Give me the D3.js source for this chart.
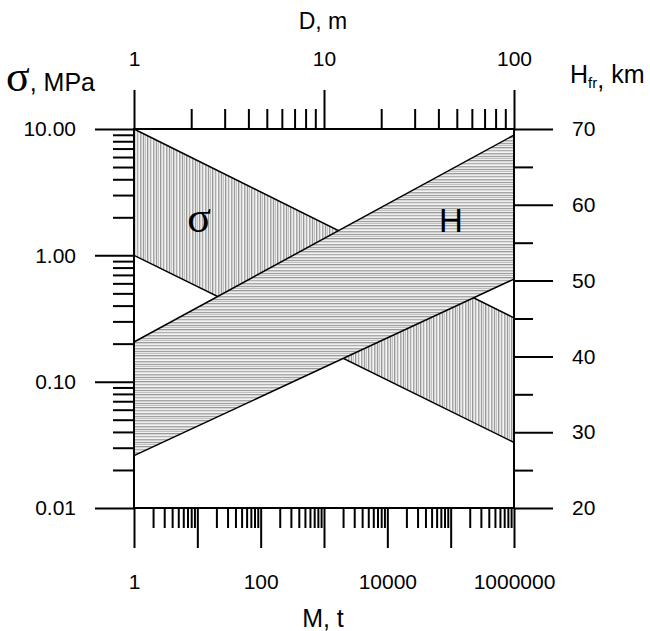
<!DOCTYPE html>
<html>
<head>
<meta charset="utf-8">
<script src="https://cdn.jsdelivr.net/npm/d3@7/dist/d3.min.js"></script>
<style>
  html, body { margin: 0; padding: 0; background: #fff; }
  svg { display: block; }
  .axis text { font-family: "Liberation Sans", Arial, sans-serif; font-size: 21px; fill: #000; }
  .axis line { stroke: #000; stroke-width: 2; }
  .axis path { display: none; }
  .title { font-family: "Liberation Sans", Arial, sans-serif; fill: #000; }
</style>
</head>
<body>
<svg id="chart" width="650" height="631"></svg>
<script>
// Mass of the impactor, t (bottom axis) and its diameter, m (top axis)
const massDomain = [1, 1e6];
const massLabels = [1, 100, 10000, 1000000];
const diameterDomain = [1, 100];
const diameterLabels = [1, 10, 100];

// Stress, MPa (left axis, log) and fracture depth, km (right axis, linear)
const stressDomain = [0.01, 10];
const stressLabels = [10, 1, 0.1, 0.01];
const depthDomain = [20, 70];
const depthMajor = [20, 30, 40, 50, 60, 70];
const depthMinor = [25, 35, 45, 55, 65];

// Stress band: upper and lower bounds versus mass
const sigmaMass = [1, 1e6];
const sigmaUpper = [10, 0.32];
const sigmaLower = [1, 0.033];

// Fracture depth band: upper and lower bounds versus mass
const depthMass = [1, 1e6];
const depthUpper = [41.9, 69.2];
const depthLower = [26.9, 50.2];

const svg = d3.select("#chart");
const plot = { left: 134, right: 514, top: 129, bottom: 508 };

const x = d3.scaleLog().domain(massDomain).range([plot.left, plot.right]);
const xD = d3.scaleLog().domain(diameterDomain).range([plot.left, plot.right]);
const y = d3.scaleLog().domain(stressDomain).range([plot.bottom, plot.top]);
const yH = d3.scaleLinear().domain(depthDomain).range([plot.bottom, plot.top]);

const isDecade = v => Math.abs(Math.log10(v) - Math.round(Math.log10(v))) < 1e-9;

// Hatch patterns: thin grey strokes of uneven tone
const defs = svg.append("defs");
const vGrays = ["#9c9c9c", "#e2e2e2", "#c2c2c2", "#f1f1f1", "#969696", "#d4d4d4",
                "#eaeaea", "#aeaeae", "#dcdcdc", "#f5f5f5", "#a8a8a8", "#cccccc", "#e6e6e6"];
const hGrays = ["#a0a0a0", "#e4e4e4", "#bebebe", "#f1f1f1", "#989898", "#d6d6d6",
                "#ececec", "#b2b2b2", "#dedede", "#f4f4f4", "#a8a8a8", "#cecece", "#e8e8e8"];

const pv = defs.append("pattern").attr("id", "vhatch")
  .attr("patternUnits", "userSpaceOnUse").attr("width", vGrays.length).attr("height", 4);
pv.selectAll("rect").data(vGrays).join("rect")
  .attr("x", (d, i) => i).attr("y", 0).attr("width", 1).attr("height", 4).attr("fill", d => d);

const ph = defs.append("pattern").attr("id", "hhatch")
  .attr("patternUnits", "userSpaceOnUse").attr("width", 4).attr("height", hGrays.length);
ph.selectAll("rect").data(hGrays).join("rect")
  .attr("y", (d, i) => i).attr("x", 0).attr("height", 1).attr("width", 4).attr("fill", d => d);

// Band polygons
function bandPoints(ms, up, lo, ys) {
  const pts = ms.map((m, i) => [x(m), ys(up[i])]);
  for (let i = ms.length - 1; i >= 0; i--) pts.push([x(ms[i]), ys(lo[i])]);
  return pts;
}
const line = d3.line();

svg.append("path")
  .attr("d", line(bandPoints(sigmaMass, sigmaUpper, sigmaLower, y)) + "Z")
  .attr("fill", "url(#vhatch)").attr("stroke", "#000").attr("stroke-width", 1.5);

svg.append("path")
  .attr("d", line(bandPoints(depthMass, depthUpper, depthLower, yH)) + "Z")
  .attr("fill", "url(#hhatch)").attr("stroke", "#000").attr("stroke-width", 1.5);

// Band labels
svg.append("text").attr("x", 199).attr("y", 232).attr("text-anchor", "middle")
  .attr("font-family", "'Liberation Serif', 'Times New Roman', serif").attr("font-size", 44)
  .text("σ");
svg.append("text").attr("class", "title").attr("x", 451).attr("y", 232).attr("text-anchor", "middle")
  .attr("font-size", 33).text("H");

// Frame
svg.append("rect").attr("x", plot.left).attr("y", plot.top)
  .attr("width", plot.right - plot.left).attr("height", plot.bottom - plot.top)
  .attr("fill", "none").attr("stroke", "#000").attr("stroke-width", 2);

// Bottom axis (mass)
const massTicks = x.ticks();
const massMinor = massTicks.filter(v => !isDecade(v));
const massMajor = massTicks.filter(isDecade);
svg.append("g").attr("class", "axis").attr("transform", `translate(0,${plot.bottom})`)
  .call(d3.axisBottom(x).tickValues(massMinor).tickSize(20).tickFormat(""));
svg.append("g").attr("class", "axis").attr("transform", `translate(0,${plot.bottom})`)
  .call(d3.axisBottom(x).tickValues(massMajor).tickSize(40).tickPadding(26)
    .tickFormat(v => massLabels.some(l => Math.abs(l - v) < 1e-6) ? d3.format("d")(v) : ""));

// Top axis (diameter)
const dTicks = xD.ticks();
const dMinor = dTicks.filter(v => !isDecade(v));
svg.append("g").attr("class", "axis").attr("transform", `translate(0,${plot.top})`)
  .call(d3.axisTop(xD).tickValues(dMinor).tickSize(20).tickFormat(""));
svg.append("g").attr("class", "axis").attr("transform", `translate(0,${plot.top})`)
  .call(d3.axisTop(xD).tickValues(diameterLabels).tickSize(39).tickPadding(24).tickFormat(d3.format("d")));

// Left axis (stress)
const sTicks = y.ticks();
const sMinor = sTicks.filter(v => !isDecade(v));
svg.append("g").attr("class", "axis").attr("transform", `translate(${plot.left},0)`)
  .call(d3.axisLeft(y).tickValues(sMinor).tickSize(21).tickFormat(""));
svg.append("g").attr("class", "axis").attr("transform", `translate(${plot.left},0)`)
  .call(d3.axisLeft(y).tickValues(stressLabels).tickSize(39).tickPadding(19).tickFormat(d3.format(".2f")));

// Right axis (fracture depth)
svg.append("g").attr("class", "axis").attr("transform", `translate(${plot.right},0)`)
  .call(d3.axisRight(yH).tickValues(depthMinor).tickSize(19).tickFormat(""));
svg.append("g").attr("class", "axis").attr("transform", `translate(${plot.right},0)`)
  .call(d3.axisRight(yH).tickValues(depthMajor).tickSize(39).tickPadding(19).tickFormat(d3.format("d")));

// Axis titles
const sTitle = svg.append("text").attr("class", "title").attr("x", 6).attr("y", 91).attr("font-size", 25);
sTitle.append("tspan").attr("font-family", "'Liberation Serif', 'Times New Roman', serif")
  .attr("font-size", 44).text("σ");
sTitle.append("tspan").text(", MPa");

const hTitle = svg.append("text").attr("class", "title").attr("x", 570).attr("y", 83).attr("font-size", 25);
hTitle.append("tspan").text("H");
hTitle.append("tspan").attr("font-size", 15).attr("dy", 5).text("fr");
hTitle.append("tspan").text(",");
hTitle.append("tspan").attr("dy", -5).text(" km");

svg.append("text").attr("class", "title").attr("x", 323).attr("y", 29).attr("text-anchor", "middle")
  .attr("font-size", 23).text("D, m");
svg.append("text").attr("class", "title").attr("x", 323).attr("y", 627).attr("text-anchor", "middle")
  .attr("font-size", 25).text("M, t");
</script>
</body>
</html>
